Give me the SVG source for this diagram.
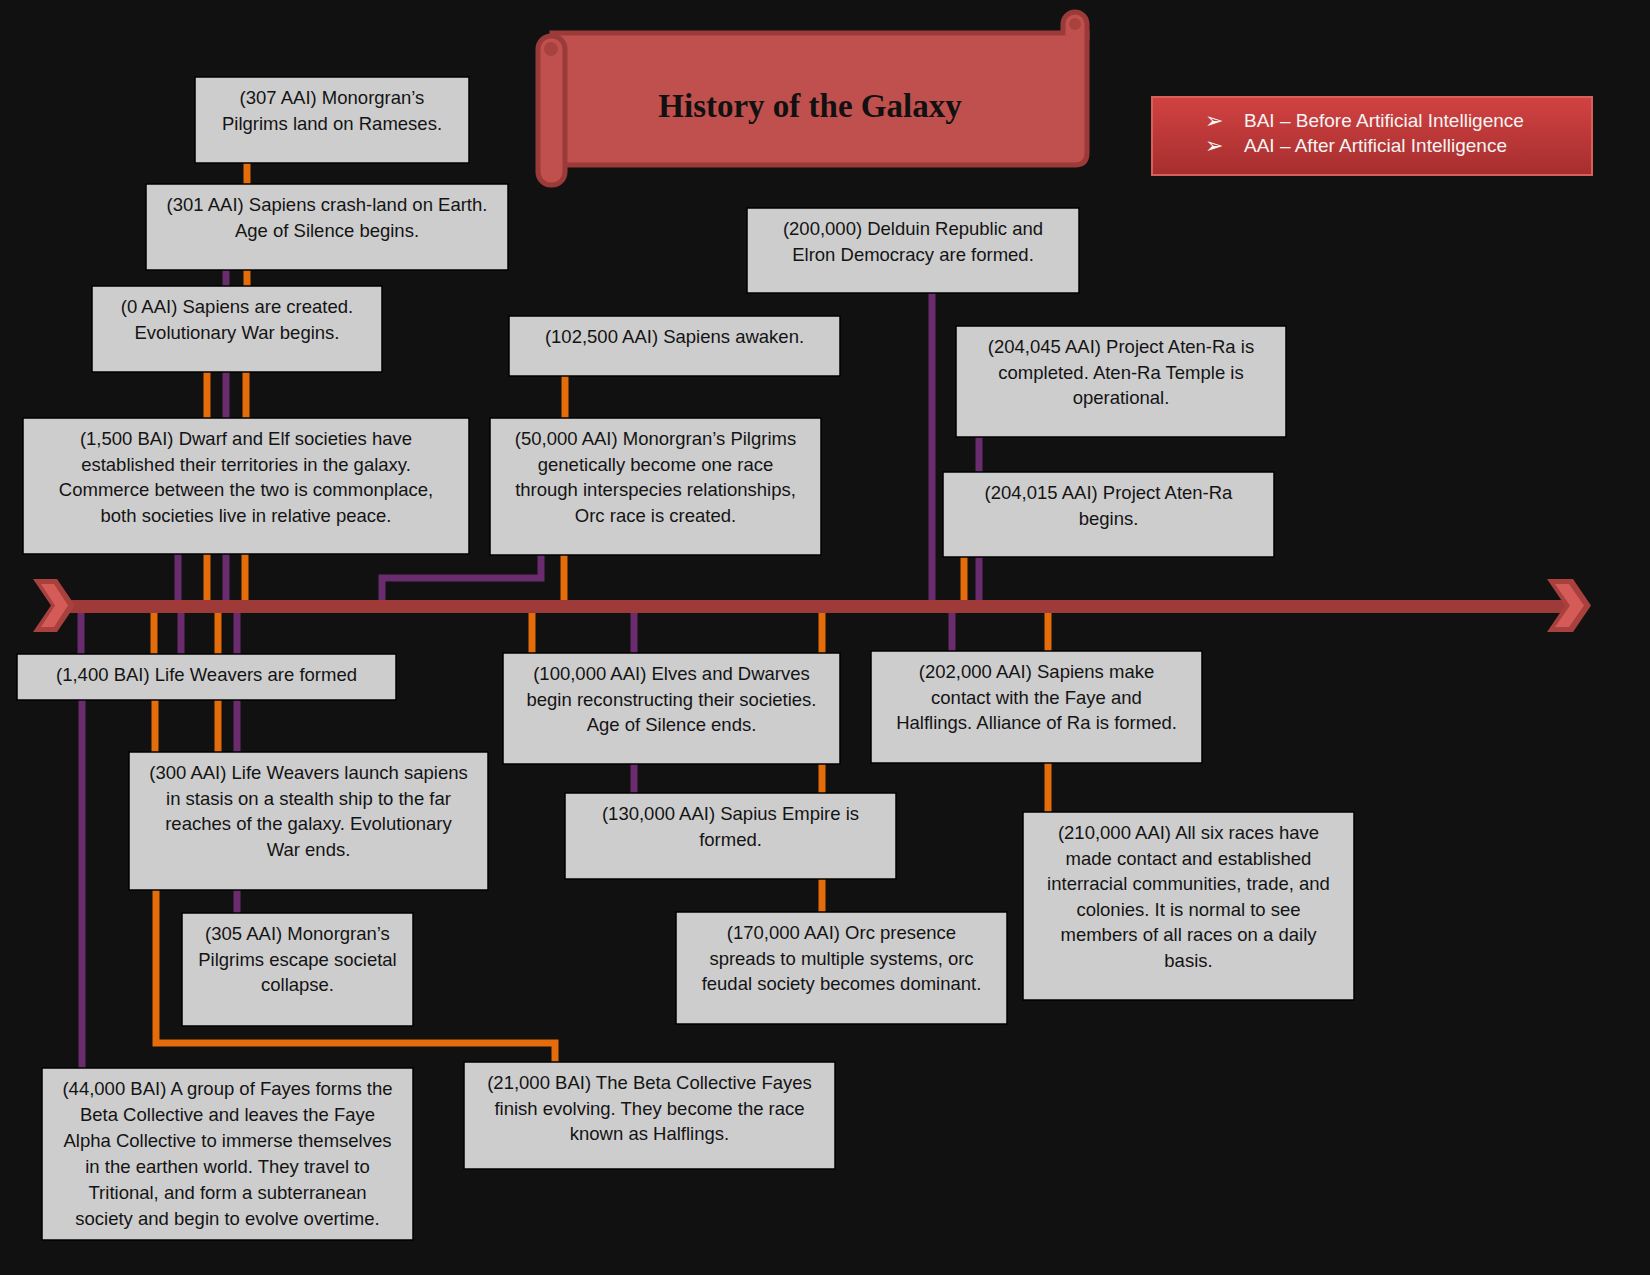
<svg xmlns="http://www.w3.org/2000/svg" width="1650" height="1275" viewBox="0 0 1650 1275">
<defs>
<linearGradient id="lg" x1="0" y1="0" x2="0" y2="1">
<stop offset="0" stop-color="#d24242"/>
<stop offset="1" stop-color="#a62e2e"/>
</linearGradient>
<style>
.box{fill:#cdcdcd;stroke:#000;stroke-width:1.5}
.t{font-family:"Liberation Sans",Arial,sans-serif;font-size:18.5px;fill:#141414;text-anchor:middle}
.o{stroke:#e46c0a;stroke-width:7;fill:none}
.p{stroke:#6a2c6e;stroke-width:7;fill:none}
.lt{font-family:"Liberation Sans",Arial,sans-serif;font-size:19px;fill:#f4f4f4}
.bl{font-family:"DejaVu Sans",sans-serif;font-size:22px;fill:#f8f8f8}
</style>
</defs>
<rect x="0" y="0" width="1650" height="1275" fill="#111111"/>

<g id="title">
<path d="M552,33 H1087 V153 Q1087,165 1075,165 H552 Z" fill="#c0504d" stroke="#9b3b39" stroke-width="5"/>
<path d="M1063,35 V24 A12,12 0 0 1 1087,24 V40" fill="#c0504d" stroke="#9b3b39" stroke-width="5"/>
<circle cx="1075" cy="24" r="6" fill="#a8423f"/>
<rect x="538" y="36" width="27" height="149" rx="13" fill="#c0504d" stroke="#9b3b39" stroke-width="5"/>
<circle cx="551" cy="49" r="7" fill="#a8423f"/>
<text x="810" y="117" font-family="Liberation Serif, 'Times New Roman', serif" font-weight="bold" font-size="33" fill="#111" text-anchor="middle">History of the Galaxy</text>
</g>

<g id="legend">
<rect x="1152" y="97" width="440" height="78" fill="url(#lg)" stroke="#d8605a" stroke-width="2"/>
<text class="bl" x="1205" y="128">➢</text>
<text class="lt" x="1244" y="127">BAI – Before Artificial Intelligence</text>
<text class="bl" x="1205" y="153">➢</text>
<text class="lt" x="1244" y="152">AAI – After Artificial Intelligence</text>
</g>

<g id="timeline">
<rect x="62" y="600" width="1506" height="13" fill="#9e3a38"/>
<path d="M33,579 L57,579 L75,605.5 L57,632 L33,632 L51,605.5 Z" fill="#a8403e"/>
<path d="M41,584 L54,584 L68,605.5 L54,627 L41,627 L55,605.5 Z" fill="#d45b58"/>
<path d="M1547,579 L1573,579 L1591,605.5 L1573,632 L1547,632 L1565,605.5 Z" fill="#a8403e"/>
<path d="M1555,584 L1569,584 L1584,605.5 L1569,627 L1555,627 L1570,605.5 Z" fill="#d45b58"/>
</g>

<g id="connectors">
<path class="o" d="M247,163 V184"/>
<path class="o" d="M247,270 V286"/>
<path class="p" d="M226,270 V286"/>
<path class="o" d="M207,372 V418"/>
<path class="p" d="M226,372 V418"/>
<path class="o" d="M246,372 V418"/>
<path class="p" d="M178,554 V600"/>
<path class="o" d="M207,554 V600"/>
<path class="p" d="M226,554 V600"/>
<path class="o" d="M245,554 V600"/>
<path class="p" d="M541,555 V578 H382 V600"/>
<path class="o" d="M565,376 V418"/>
<path class="o" d="M564,555 V600"/>
<path class="p" d="M932,293 V600"/>
<path class="p" d="M979,437 V472"/>
<path class="o" d="M964,557 V600"/>
<path class="p" d="M979,557 V600"/>
<path class="p" d="M81,613 V654"/>
<path class="o" d="M154,613 V654"/>
<path class="p" d="M181,613 V654"/>
<path class="o" d="M218,613 V654"/>
<path class="p" d="M237,613 V654"/>
<path class="o" d="M532,613 V653"/>
<path class="p" d="M634,613 V653"/>
<path class="o" d="M822,613 V653"/>
<path class="p" d="M952,613 V651"/>
<path class="o" d="M1048,613 V651"/>
<path class="p" d="M82,700 V1068"/>
<path class="o" d="M155,700 V752"/>
<path class="o" d="M218,700 V752"/>
<path class="p" d="M237,700 V752"/>
<path class="p" d="M237,890 V913"/>
<path class="o" d="M156,890 V1043 H555 V1062"/>
<path class="p" d="M634,764 V793"/>
<path class="o" d="M822,764 V793"/>
<path class="o" d="M822,879 V912"/>
<path class="o" d="M1048,763 V812"/>
</g>

<g id="n307"><rect class="box" x="195" y="77" width="274" height="86"/>
<text class="t" y="104"><tspan x="332">(307 AAI) Monorgran’s</tspan><tspan x="332" dy="25.5">Pilgrims land on Rameses.</tspan></text></g>

<g id="n301"><rect class="box" x="146" y="184" width="362" height="86"/>
<text class="t" y="211"><tspan x="327">(301 AAI) Sapiens crash-land on Earth.</tspan><tspan x="327" dy="25.5">Age of Silence begins.</tspan></text></g>

<g id="n0"><rect class="box" x="92" y="286" width="290" height="86"/>
<text class="t" y="313"><tspan x="237">(0 AAI) Sapiens are created.</tspan><tspan x="237" dy="25.5">Evolutionary War begins.</tspan></text></g>

<g id="n1500"><rect class="box" x="23" y="418" width="446" height="136"/>
<text class="t" y="445"><tspan x="246">(1,500 BAI) Dwarf and Elf societies have</tspan><tspan x="246" dy="25.5">established their territories in the galaxy.</tspan><tspan x="246" dy="25.5">Commerce between the two is commonplace,</tspan><tspan x="246" dy="25.5">both societies live in relative peace.</tspan></text></g>

<g id="n102500"><rect class="box" x="509" y="316" width="331" height="60"/>
<text class="t" y="343"><tspan x="674.5">(102,500 AAI) Sapiens awaken.</tspan></text></g>

<g id="n50000"><rect class="box" x="490" y="418" width="331" height="137"/>
<text class="t" y="445"><tspan x="655.5">(50,000 AAI) Monorgran’s Pilgrims</tspan><tspan x="655.5" dy="25.5">genetically become one race</tspan><tspan x="655.5" dy="25.5">through interspecies relationships,</tspan><tspan x="655.5" dy="25.5">Orc race is created.</tspan></text></g>

<g id="n200000"><rect class="box" x="747" y="208" width="332" height="85"/>
<text class="t" y="235"><tspan x="913">(200,000) Delduin Republic and</tspan><tspan x="913" dy="25.5">Elron Democracy are formed.</tspan></text></g>

<g id="n204045"><rect class="box" x="956" y="326" width="330" height="111"/>
<text class="t" y="353"><tspan x="1121">(204,045 AAI) Project Aten-Ra is</tspan><tspan x="1121" dy="25.5">completed. Aten-Ra Temple is</tspan><tspan x="1121" dy="25.5">operational.</tspan></text></g>

<g id="n204015"><rect class="box" x="943" y="472" width="331" height="85"/>
<text class="t" y="499"><tspan x="1108.5">(204,015 AAI) Project Aten-Ra</tspan><tspan x="1108.5" dy="25.5">begins.</tspan></text></g>

<g id="n1400"><rect class="box" x="17" y="654" width="379" height="46"/>
<text class="t" y="681"><tspan x="206.5">(1,400 BAI) Life Weavers are formed</tspan></text></g>

<g id="n300"><rect class="box" x="129" y="752" width="359" height="138"/>
<text class="t" y="779"><tspan x="308.5">(300 AAI) Life Weavers launch sapiens</tspan><tspan x="308.5" dy="25.5">in stasis on a stealth ship to the far</tspan><tspan x="308.5" dy="25.5">reaches of the galaxy. Evolutionary</tspan><tspan x="308.5" dy="25.5">War ends.</tspan></text></g>

<g id="n305"><rect class="box" x="182" y="913" width="231" height="113"/>
<text class="t" y="940"><tspan x="297.5">(305 AAI) Monorgran’s</tspan><tspan x="297.5" dy="25.5">Pilgrims escape societal</tspan><tspan x="297.5" dy="25.5">collapse.</tspan></text></g>

<g id="n44000"><rect class="box" x="42" y="1068" width="371" height="172"/>
<text class="t" y="1095"><tspan x="227.5">(44,000 BAI) A group of Fayes forms the</tspan><tspan x="227.5" dy="26">Beta Collective and leaves the Faye</tspan><tspan x="227.5" dy="26">Alpha Collective to immerse themselves</tspan><tspan x="227.5" dy="26">in the earthen world. They travel to</tspan><tspan x="227.5" dy="26">Tritional, and form a subterranean</tspan><tspan x="227.5" dy="26">society and begin to evolve overtime.</tspan></text></g>

<g id="n100000"><rect class="box" x="503" y="653" width="337" height="111"/>
<text class="t" y="680"><tspan x="671.5">(100,000 AAI) Elves and Dwarves</tspan><tspan x="671.5" dy="25.5">begin reconstructing their societies.</tspan><tspan x="671.5" dy="25.5">Age of Silence ends.</tspan></text></g>

<g id="n130000"><rect class="box" x="565" y="793" width="331" height="86"/>
<text class="t" y="820"><tspan x="730.5">(130,000 AAI) Sapius Empire is</tspan><tspan x="730.5" dy="25.5">formed.</tspan></text></g>

<g id="n170000"><rect class="box" x="676" y="912" width="331" height="112"/>
<text class="t" y="939"><tspan x="841.5">(170,000 AAI) Orc presence</tspan><tspan x="841.5" dy="25.5">spreads to multiple systems, orc</tspan><tspan x="841.5" dy="25.5">feudal society becomes dominant.</tspan></text></g>

<g id="n21000"><rect class="box" x="464" y="1062" width="371" height="107"/>
<text class="t" y="1089"><tspan x="649.5">(21,000 BAI) The Beta Collective Fayes</tspan><tspan x="649.5" dy="25.5">finish evolving. They become the race</tspan><tspan x="649.5" dy="25.5">known as Halflings.</tspan></text></g>

<g id="n202000"><rect class="box" x="871" y="651" width="331" height="112"/>
<text class="t" y="678"><tspan x="1036.5">(202,000 AAI) Sapiens make</tspan><tspan x="1036.5" dy="25.5">contact with the Faye and</tspan><tspan x="1036.5" dy="25.5">Halflings. Alliance of Ra is formed.</tspan></text></g>

<g id="n210000"><rect class="box" x="1023" y="812" width="331" height="188"/>
<text class="t" y="839"><tspan x="1188.5">(210,000 AAI) All six races have</tspan><tspan x="1188.5" dy="25.5">made contact and established</tspan><tspan x="1188.5" dy="25.5">interracial communities, trade, and</tspan><tspan x="1188.5" dy="25.5">colonies. It is normal to see</tspan><tspan x="1188.5" dy="25.5">members of all races on a daily</tspan><tspan x="1188.5" dy="25.5">basis.</tspan></text></g>
</svg>
